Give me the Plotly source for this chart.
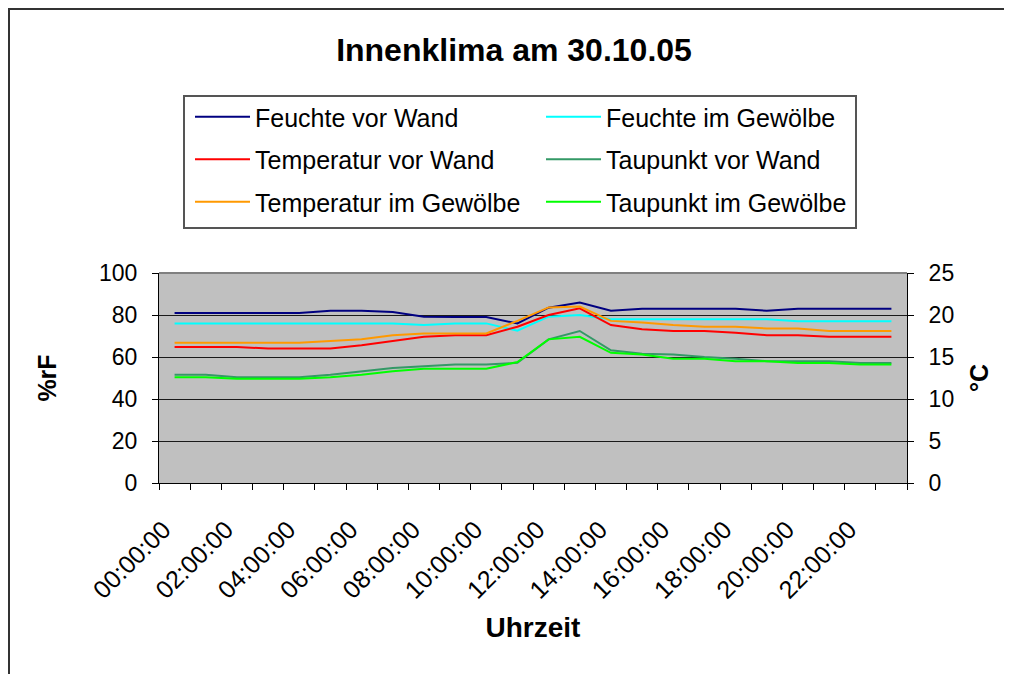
import plotly.graph_objects as go

times = ["00:00:00", "01:00:00", "02:00:00", "03:00:00", "04:00:00", "05:00:00",
         "06:00:00", "07:00:00", "08:00:00", "09:00:00", "10:00:00", "11:00:00",
         "12:00:00", "13:00:00", "14:00:00", "15:00:00", "16:00:00", "17:00:00",
         "18:00:00", "19:00:00", "20:00:00", "21:00:00", "22:00:00", "23:00:00"]
tick_labels = ["00:00:00", "", "02:00:00", "", "04:00:00", "", "06:00:00", "",
               "08:00:00", "", "10:00:00", "", "12:00:00", "", "14:00:00", "",
               "16:00:00", "", "18:00:00", "", "20:00:00", "", "22:00:00", ""]

feuchte_wand = [81, 81, 81, 81, 81, 82, 82, 81.4, 79.2, 79, 79, 76,
                83.5, 85.9, 82, 83, 83, 83, 83, 82, 83, 83, 83, 83]
feuchte_gew = [76, 76, 76, 76, 76, 76, 76, 76, 75.2, 76, 76, 72.5,
               79.2, 80, 78, 78, 78, 78, 78, 78, 77, 77, 77, 77]
temp_wand = [16.2, 16.2, 16.2, 16.0, 16.0, 16.0, 16.4, 16.9, 17.4, 17.6, 17.6, 18.6,
             20.0, 20.8, 18.8, 18.3, 18.1, 18.1, 17.9, 17.6, 17.6, 17.4, 17.4, 17.4]
tau_wand = [12.9, 12.9, 12.6, 12.6, 12.6, 12.9, 13.3, 13.7, 13.9, 14.1, 14.1, 14.3,
            17.1, 18.1, 15.8, 15.4, 15.3, 15.0, 14.8, 14.5, 14.5, 14.5, 14.3, 14.3]
temp_gew = [16.7, 16.7, 16.7, 16.7, 16.7, 16.9, 17.1, 17.6, 17.8, 17.8, 17.8, 19.3,
            20.9, 21.0, 19.3, 19.1, 18.8, 18.6, 18.6, 18.4, 18.4, 18.1, 18.1, 18.1]
tau_gew = [12.6, 12.6, 12.4, 12.4, 12.4, 12.6, 12.9, 13.3, 13.6, 13.6, 13.6, 14.4,
           17.1, 17.4, 15.5, 15.3, 14.8, 14.8, 14.5, 14.5, 14.3, 14.3, 14.1, 14.1]

series = [
    ("Feuchte vor Wand", feuchte_wand, "#000080", "y", "legend"),
    ("Feuchte im Gewölbe", feuchte_gew, "#00FFFF", "y", "legend2"),
    ("Temperatur vor Wand", temp_wand, "#FF0000", "y2", "legend"),
    ("Taupunkt vor Wand", tau_wand, "#339966", "y2", "legend2"),
    ("Temperatur im Gewölbe", temp_gew, "#FF9900", "y2", "legend"),
    ("Taupunkt im Gewölbe", tau_gew, "#00FF00", "y2", "legend2"),
]

FONT = "Liberation Sans, Arial, sans-serif"
OFF = 8                      # page body margin
W, H = 1012 - OFF, 674 - OFF
# plot area in screen px
SL, SR, ST, SB = 159, 907, 273, 483
L, R, T, B = SL - OFF, SR - OFF, ST - OFF, SB - OFF

def px_x(sx):
    return (sx - OFF - L) / (R - L)

def px_y(sy):
    return (B - (sy - OFF)) / (B - T)

fig = go.Figure()
for name, vals, col, ax, leg in series:
    fig.add_trace(go.Scatter(
        x=times, y=vals, name=name, mode="lines", yaxis=ax,
        line=dict(color=col, width=2), legend=leg, legendgroup=name,
    ))

fig.update_layout(
    width=W, height=H,
    margin=dict(l=L, r=W - R, t=T, b=H - B, pad=0),
    paper_bgcolor="white",
    plot_bgcolor="#C0C0C0",
    font=dict(family=FONT, color="black", size=23),
    title=dict(text="<b>Innenklima am 30.10.05</b>", font=dict(size=32, family=FONT),
               x=px_x(514), xref="paper", xanchor="center",
               y=1 - (50 - OFF) / H, yref="container", yanchor="middle"),
    showlegend=True,
    legend=dict(x=px_x(190), xanchor="left", y=px_y(94), yanchor="top",
                bgcolor="rgba(0,0,0,0)", font=dict(size=25, family=FONT),
                tracegroupgap=7, itemwidth=55),
    legend2=dict(x=px_x(541), xanchor="left", y=px_y(94), yanchor="top",
                 bgcolor="rgba(0,0,0,0)", font=dict(size=25, family=FONT),
                 tracegroupgap=7, itemwidth=55),
    xaxis=dict(type="category", categoryorder="array", categoryarray=times,
               tickmode="array", tickvals=times, ticktext=tick_labels,
               tickson="boundaries", ticks="outside", ticklen=6, tickcolor="black",
               tickangle=-45, showline=True, linecolor="black", linewidth=1,
               showgrid=False, zeroline=False, range=[-0.5, 23.5],
               tickfont=dict(size=25), ticklabelstandoff=21, ticklabelshift=-11,
               title=dict(text="<b>Uhrzeit</b>", font=dict(size=28), standoff=14)),
    yaxis=dict(range=[0, 100], dtick=20, tick0=0, ticks="outside", ticklen=6,
               tickcolor="black", showline=True, linecolor="black", linewidth=1,
               showgrid=True, gridcolor="#1a1a1a", gridwidth=1, zeroline=False,
               tickfont=dict(size=23), ticklabelstandoff=10,
               title=dict(text="<b>%rF</b>", font=dict(size=25), standoff=35)),
    yaxis2=dict(range=[0, 25], dtick=5, tick0=0, overlaying="y", side="right",
                ticks="outside", ticklen=6, tickcolor="black", showline=True,
                linecolor="black", linewidth=1, showgrid=False, zeroline=False,
                tickfont=dict(size=23), ticklabelstandoff=10,
                title=dict(text="<b>°C</b>", font=dict(size=25), standoff=17)),
    shapes=[
        # outer chart border: only its top and left edges are inside the view
        dict(type="line", xref="paper", yref="paper",
             x0=px_x(OFF + 1), x1=px_x(OFF + W), y0=px_y(OFF + 1), y1=px_y(OFF + 1),
             line=dict(color="#333333", width=2), layer="below"),
        dict(type="line", xref="paper", yref="paper",
             x0=px_x(OFF + 1), x1=px_x(OFF + 1), y0=px_y(OFF), y1=px_y(OFF + H),
             line=dict(color="#333333", width=2), layer="below"),
        # legend box
        dict(type="rect", xref="paper", yref="paper",
             x0=px_x(184), x1=px_x(856), y0=px_y(228), y1=px_y(96),
             line=dict(color="#555555", width=2), fillcolor="white", layer="below"),
        # plot area top border
        dict(type="line", xref="paper", yref="paper", x0=0, x1=1, y0=1, y1=1,
             line=dict(color="#808080", width=2), layer="above"),
    ],
)

fig.write_html("out.html")
